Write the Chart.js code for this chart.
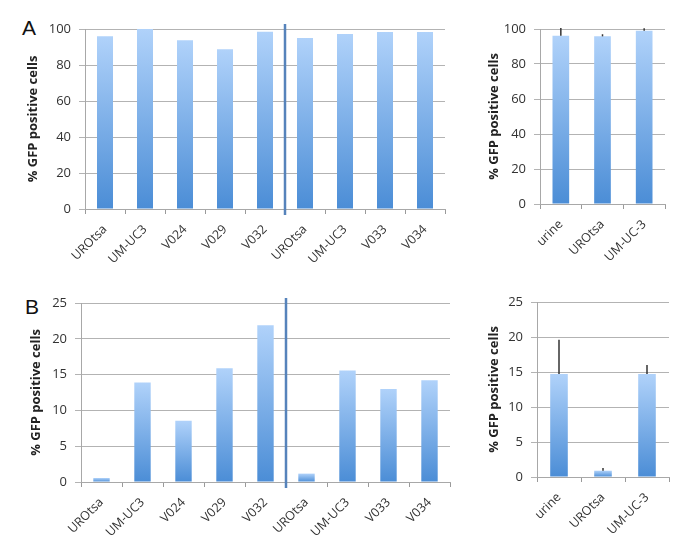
<!DOCTYPE html>
<html>
<head>
<meta charset="utf-8">
<script src="https://cdn.jsdelivr.net/npm/chart.js@4/dist/chart.umd.min.js"></script>
<style>
  body { margin: 0; background: #fff; }
  #lienzo { position: relative; width: 685px; height: 557px; overflow: hidden; }
  .panel { position: absolute; }
  .letra { position: absolute; font-family: "Liberation Sans", Arial, sans-serif; font-size: 21px; color: #111; }
</style>
</head>
<body>
<div id="lienzo">
  <div class="letra" style="left:22px; top:16px;">A</div>
  <div class="letra" style="left:25px; top:295px;">B</div>
  <div class="panel" style="left:0; top:0; width:460px; height:272px;"><canvas id="graficoAIzq"></canvas></div>
  <div class="panel" style="left:460px; top:0; width:225px; height:272px;"><canvas id="graficoADer"></canvas></div>
  <div class="panel" style="left:0; top:272px; width:460px; height:285px;"><canvas id="graficoBIzq"></canvas></div>
  <div class="panel" style="left:460px; top:272px; width:225px; height:285px;"><canvas id="graficoBDer"></canvas></div>
</div>
<script>
// Datos
const lineasCelulares = ["UROtsa", "UM-UC3", "V024", "V029", "V032", "UROtsa", "UM-UC3", "V033", "V034"];
const muestras = ["urine", "UROtsa", "UM-UC-3"];

const valoresA = [96, 100, 93.7, 88.7, 98.5, 95, 97.2, 98.3, 98.3];
const valoresADer = [96.2, 95.8, 99];
const erroresADer = [4.4, 1.2, 1.4];

const valoresB = [0.56, 13.9, 8.55, 15.9, 21.9, 1.17, 15.56, 13.0, 14.2];
const valoresBDer = [14.7, 0.9, 14.7];
const erroresBDer = [4.9, 0.4, 1.3];

const ticksA = { min: 0, max: 100, paso: 20 };
const ticksB = { min: 0, max: 25, paso: 5 };

const fuente = "'Open Sans', 'Liberation Sans', sans-serif";

// Barras con degradado claro arriba, oscuro abajo
function degradado(ctx) {
    const chart = ctx.chart;
    if (!chart.chartArea || ctx.raw === undefined) return "#7fb0ea";
    const y = chart.scales.y;
    const arriba = y.getPixelForValue(ctx.raw);
    const abajo = y.getPixelForValue(0);
    if (!isFinite(arriba) || abajo - arriba < 1) return "#a9ccf6";
    const g = chart.ctx.createLinearGradient(0, arriba, 0, abajo);
    g.addColorStop(0, "#b0d2fa");
    g.addColorStop(1, "#4b8dd6");
    return g;
}

// Barras de error y línea separadora
const extras = {
    id: "extras",
    afterDatasetsDraw(chart, args, opts) {
        const ctx = chart.ctx;
        const x = chart.scales.x;
        const y = chart.scales.y;
        const valores = chart.data.datasets[0].data;

        if (opts.errores) {
            ctx.save();
            ctx.strokeStyle = "#333";
            ctx.lineWidth = 1.5;
            opts.errores.forEach((e, i) => {
                const px = x.getPixelForValue(i);
                ctx.beginPath();
                ctx.moveTo(px, y.getPixelForValue(valores[i]));
                ctx.lineTo(px, y.getPixelForValue(valores[i] + e));
                ctx.stroke();
            });
            ctx.restore();
        }

        if (opts.separador !== undefined) {
            const i = opts.separador;
            const px = (x.getPixelForValue(i) + x.getPixelForValue(i + 1)) / 2;
            ctx.save();
            ctx.strokeStyle = "#5683bb";
            ctx.lineWidth = 2.5;
            ctx.beginPath();
            ctx.moveTo(px, chart.chartArea.top - 5);
            ctx.lineTo(px, chart.chartArea.bottom + 6);
            ctx.stroke();
            ctx.restore();
        }
    }
};

function crearGrafico(id, etiquetas, datos, ejes, config) {

    new Chart(document.getElementById(id), {
        type: "bar",
        data: {
            labels: etiquetas,
            datasets: [{
                data: datos,
                backgroundColor: degradado,
                barPercentage: 0.4,
                categoryPercentage: 1
            }]
        },
        options: {
            responsive: true,
            maintainAspectRatio: false,
            animation: false,
            layout: {
                padding: { left: config.izq, right: config.der, top: config.arriba, bottom: 0 }
            },
            plugins: {
                legend: { display: false },
                tooltip: { enabled: false },
                extras: { errores: config.errores, separador: config.separador }
            },
            scales: {
                x: {
                    offset: true,
                    grid: {
                        offset: true,
                        drawOnChartArea: false,
                        drawTicks: true,
                        tickLength: 5,
                        color: "#9a9a9a"
                    },
                    border: { display: true, color: "#a8a8a8" },
                    ticks: {
                        autoSkip: false,
                        minRotation: 45,
                        maxRotation: 45,
                        padding: 8,
                        color: "#333",
                        font: { family: fuente, size: 12.5 }
                    },
                    afterFit(escala) { escala.height = config.altoX; }
                },
                y: {
                    min: ejes.min,
                    max: ejes.max,
                    grid: {
                        color: "#b3b3b3",
                        drawTicks: true,
                        tickLength: 6
                    },
                    border: { display: true, color: "#a8a8a8" },
                    ticks: {
                        stepSize: ejes.paso,
                        padding: 8,
                        color: "#333",
                        font: { family: fuente, size: 13 }
                    },
                    title: {
                        display: true,
                        text: "% GFP positive cells",
                        color: "#222",
                        padding: 0,
                        font: { family: fuente, size: 13, weight: "bold" }
                    },
                    afterFit(escala) { escala.width = config.anchoY; }
                }
            }
        },
        plugins: [extras]
    });

}

crearGrafico("graficoAIzq", lineasCelulares, valoresA, ticksA,
    { izq: 25, der: 15, arriba: 29, anchoY: 60, altoX: 63, separador: 4 });

crearGrafico("graficoADer", muestras, valoresADer, ticksA,
    { izq: 26, der: 20, arriba: 29, anchoY: 54, altoX: 68, errores: erroresADer });

crearGrafico("graficoBIzq", lineasCelulares, valoresB, ticksB,
    { izq: 28, der: 10, arriba: 31, anchoY: 53, altoX: 75, separador: 4 });

crearGrafico("graficoBDer", muestras, valoresBDer, ticksB,
    { izq: 26, der: 16, arriba: 30, anchoY: 51, altoX: 80, errores: erroresBDer });
</script>
</body>
</html>
